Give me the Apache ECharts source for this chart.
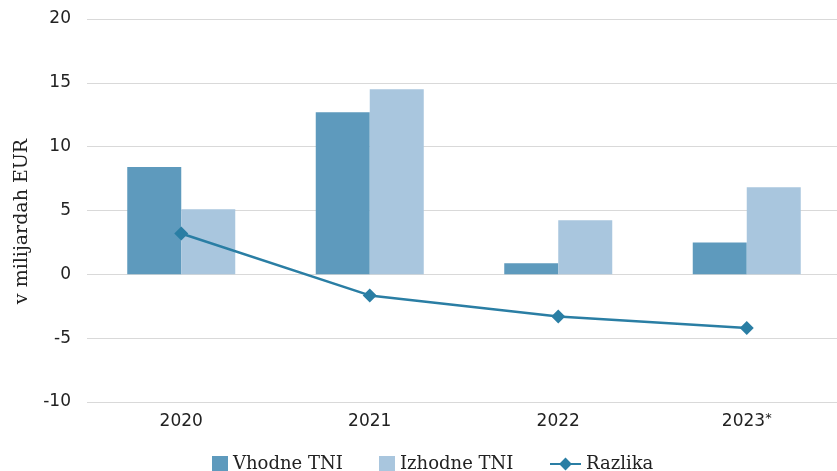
<!DOCTYPE html>
<html>
<head>
<meta charset="utf-8">
<script src="https://cdn.jsdelivr.net/npm/echarts@6/dist/echarts.min.js"></script>
<style>html,body{margin:0;padding:0;background:#fff;overflow:hidden;width:837px;height:471px}#c{width:841px;height:471px}</style>
</head>
<body>
<div id="c"></div>
<script>
const categories = ['2020', '2021', '2022', '2023*'];
const vhodne = [8.4, 12.7, 0.86, 2.5];
const izhodne = [5.1, 14.5, 4.24, 6.83];
const razlika = [3.2, -1.65, -3.3, -4.2];
const yTicks = { min: -10, max: 20, interval: 5 };

const chart = echarts.init(document.getElementById('c'), null, { renderer: 'canvas' });
const tickFont = 'DejaVu Sans';
const serif = 'DejaVu Serif';
const legendBase = {
  top: 455, padding: 0, itemHeight: 16, itemGap: 0,
  textStyle: { fontFamily: serif, fontSize: 18, color: '#222' }
};
chart.setOption({
  animation: false,
  grid: { left: 87, right: 0, top: 19, bottom: 69, containLabel: false },
  legend: [
    Object.assign({}, legendBase, { left: 212, itemWidth: 16, data: [{ name: 'Vhodne TNI', icon: 'rect' }] }),
    Object.assign({}, legendBase, { left: 379, itemWidth: 16, data: [{ name: 'Izhodne TNI', icon: 'rect' }] }),
    Object.assign({}, legendBase, { left: 549, itemWidth: 31, data: ['Razlika'] })
  ],
  xAxis: {
    type: 'category', data: categories,
    axisLine: { show: false }, axisTick: { show: false },
    axisLabel: {
      margin: 10, color: '#222',
      formatter: v => v.endsWith('*') ? '{n|' + v.slice(0, -1) + '}{sup|*}' : '{n|' + v + '}',
      rich: {
        n: { fontFamily: tickFont, fontSize: 17, color: '#222', lineHeight: 20 },
        sup: { fontFamily: tickFont, fontSize: 13, color: '#222', lineHeight: 20, verticalAlign: 'top' }
      }
    }
  },
  yAxis: {
    type: 'value', min: yTicks.min, max: yTicks.max, interval: yTicks.interval,
    name: 'v milijardah EUR', nameLocation: 'middle', nameGap: 55,
    nameTextStyle: { fontFamily: serif, fontSize: 19, color: '#222', padding: [0, 22, 0, 0] },
    axisLine: { show: false }, axisTick: { show: false },
    axisLabel: { margin: 16, fontFamily: tickFont, fontSize: 17, color: '#222' },
    splitLine: { lineStyle: { color: '#d9d9d9', width: 1 } }
  },
  series: [
    { name: 'Vhodne TNI', type: 'bar', data: vhodne, barWidth: 54, barGap: '0%', itemStyle: { color: '#5e9abd' } },
    { name: 'Izhodne TNI', type: 'bar', data: izhodne, barWidth: 54, itemStyle: { color: '#a9c6de' } },
    { name: 'Razlika', type: 'line', data: razlika, symbol: 'diamond', symbolSize: 14, showAllSymbol: true,
      lineStyle: { color: '#2a7ea4', width: 2.5 }, itemStyle: { color: '#2a7ea4' } }
  ]
});
</script>
</body>
</html>
